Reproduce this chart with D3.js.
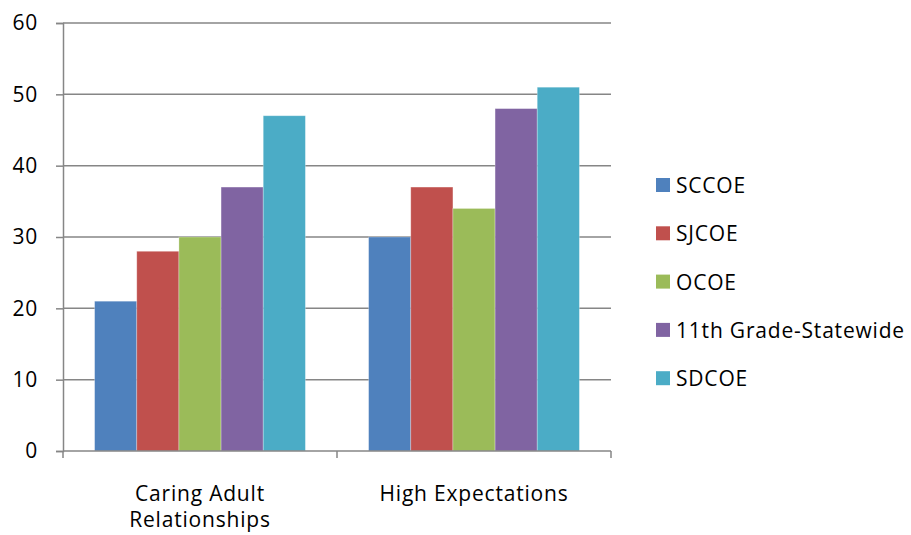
<!DOCTYPE html>
<html>
<head>
<meta charset="utf-8">
<script src="https://cdn.jsdelivr.net/npm/d3@7"></script>
<style>
  html, body { margin: 0; padding: 0; background: #fff; }
  svg text { font-family: "Open Sans", "Noto Sans", sans-serif; fill: #000; letter-spacing: 0.8px; }
</style>
</head>
<body>
<svg id="chart" width="911" height="535"></svg>
<script>
// Survey results by category and county office of education
const categories = [["Caring Adult", "Relationships"], ["High Expectations"]];
const seriesNames = ["SCCOE", "SJCOE", "OCOE", "11th Grade-Statewide", "SDCOE"];
const seriesColors = ["#4F81BD", "#C0504D", "#9BBB59", "#8064A2", "#4BACC6"];
const caringAdult = [21, 28, 30, 37, 47];
const highExpectations = [30, 37, 34, 48, 51];
const yTicks = [0, 10, 20, 30, 40, 50, 60];

const values = [caringAdult, highExpectations];

const svg = d3.select("#chart");
const plot = { left: 63, right: 611, top: 23, bottom: 451 };
const gridColor = "#868686";
const fontSize = 21;

const x0 = d3.scaleBand()
  .domain(d3.range(categories.length))
  .range([plot.left, plot.right]);

// Excel-style gap width of 150%: band = 6.5 bar widths
const barW = x0.bandwidth() / 6.5;
const x1 = d3.scaleBand()
  .domain(d3.range(seriesNames.length))
  .range([barW * 0.75, barW * 0.75 + barW * 5]);

const y = d3.scaleLinear().domain([0, 60]).range([plot.bottom, plot.top]);

// horizontal gridlines
svg.append("g")
  .selectAll("line")
  .data(yTicks.filter(t => t > 0))
  .join("line")
  .attr("x1", plot.left).attr("x2", plot.right)
  .attr("y1", d => y(d)).attr("y2", d => y(d))
  .attr("stroke", gridColor).attr("stroke-width", 1.5);

// bars
const groups = svg.append("g")
  .selectAll("g")
  .data(values)
  .join("g")
  .attr("transform", (d, i) => `translate(${x0(i)},0)`);

groups.selectAll("rect")
  .data(d => d)
  .join("rect")
  .attr("x", (d, i) => x1(i))
  .attr("width", x1.bandwidth())
  .attr("y", d => y(d))
  .attr("height", d => y(0) - y(d))
  .attr("fill", (d, i) => seriesColors[i])
  .attr("stroke", "rgba(255,255,255,0.35)")
  .attr("stroke-width", 0.8);

// y axis
const yAxis = svg.append("g")
  .attr("transform", `translate(${plot.left},0)`)
  .call(d3.axisLeft(y).tickValues(yTicks).tickSize(7).tickPadding(18).tickFormat(d3.format("d")));
yAxis.select(".domain").attr("stroke", gridColor).attr("stroke-width", 1.5);
yAxis.selectAll(".tick line").attr("stroke", gridColor).attr("stroke-width", 1.5);
yAxis.selectAll(".tick text").attr("font-size", fontSize).attr("font-family", null);

// x axis baseline with category dividers
const xAxis = svg.append("g")
  .attr("transform", `translate(0,${plot.bottom})`);
xAxis.append("line")
  .attr("x1", plot.left).attr("x2", plot.right)
  .attr("stroke", gridColor).attr("stroke-width", 1.5);
xAxis.selectAll("line.div")
  .data(d3.range(categories.length + 1))
  .join("line")
  .attr("class", "div")
  .attr("x1", i => plot.left + i * x0.step())
  .attr("x2", i => plot.left + i * x0.step())
  .attr("y1", 0).attr("y2", 7)
  .attr("stroke", gridColor).attr("stroke-width", 1.5);

// category labels
const catLabels = svg.append("g")
  .selectAll("text")
  .data(categories)
  .join("text")
  .attr("x", (d, i) => x0(i) + x0.bandwidth() / 2)
  .attr("y", 501)
  .attr("text-anchor", "middle")
  .attr("font-size", fontSize);
catLabels.selectAll("tspan")
  .data(d => d)
  .join("tspan")
  .attr("x", function() { return this.parentNode.getAttribute("x"); })
  .attr("dy", (d, i) => i === 0 ? 0 : 26)
  .text(d => d);

// legend
const legend = svg.append("g")
  .selectAll("g")
  .data(seriesNames)
  .join("g")
  .attr("transform", (d, i) => `translate(656,${185 + i * 48.3})`);
legend.append("rect")
  .attr("x", 0).attr("y", -7)
  .attr("width", 14).attr("height", 14)
  .attr("fill", (d, i) => seriesColors[i]);
legend.append("text")
  .attr("x", 20).attr("y", 8)
  .attr("font-size", fontSize)
  .text(d => d);
</script>
</body>
</html>
